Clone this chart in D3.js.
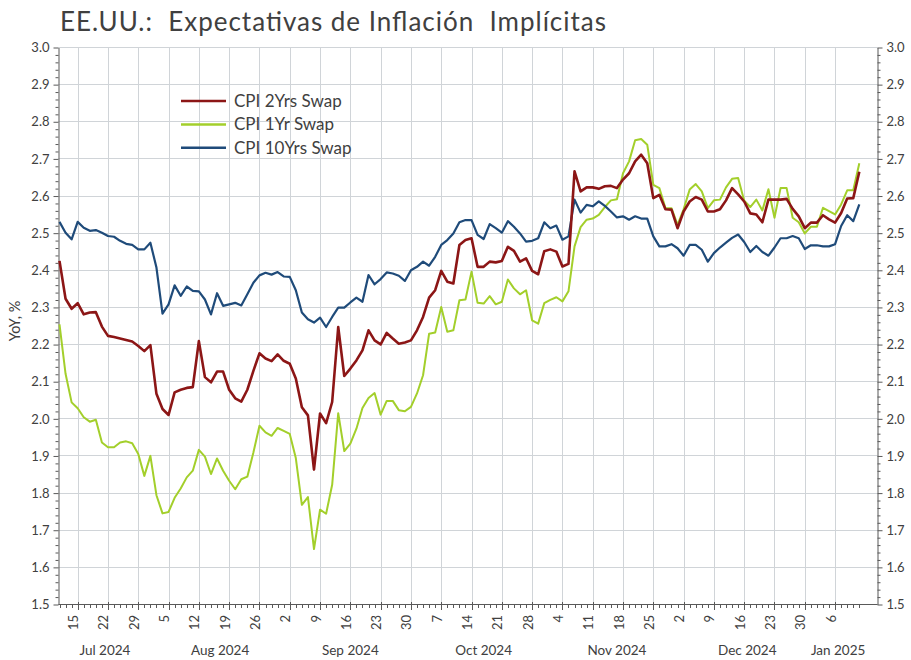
<!DOCTYPE html>
<html><head><meta charset="utf-8">
<script src="https://cdn.jsdelivr.net/npm/d3@7"></script>
<style>body{margin:0;background:#fff} svg{display:block} text{font-family:Lato,"Noto Sans",sans-serif;fill:#404040}</style>
</head><body><svg id="c" width="911" height="660"></svg>
<script>
const title = "EE.UU.:  Expectativas de Inflación  Implícitas";
const yTitle = "YoY, %";
const startDate = "2024-07-10";
const lastCategory = "2025-01-15";
const seriesNames = ["CPI 2Yrs Swap", "CPI 1Yr Swap", "CPI 10Yrs Swap"];
const seriesColors = ["#8c1616", "#a3cf2b", "#1f4b7a"];
const yTicks = [1.5,1.6,1.7,1.8,1.9,2.0,2.1,2.2,2.3,2.4,2.5,2.6,2.7,2.8,2.9,3.0];
const monthNames = ["Jan","Feb","Mar","Apr","May","Jun","Jul","Aug","Sep","Oct","Nov","Dec"];

const cpi2y = [2.424,2.322,2.295,2.310,2.280,2.285,2.286,2.247,2.222,2.219,2.215,2.211,2.207,2.195,2.181,2.197,2.066,2.025,2.009,2.070,
2.077,2.082,2.084,2.208,2.111,2.097,2.126,2.126,2.077,2.054,2.045,2.077,2.128,2.175,2.161,2.154,2.172,2.155,2.147,2.107,
2.030,2.008,1.862,2.013,1.987,2.044,2.246,2.114,2.134,2.156,2.183,2.237,2.210,2.199,2.230,2.215,2.201,2.204,2.210,2.237,
2.273,2.325,2.345,2.397,2.368,2.363,2.467,2.480,2.485,2.408,2.408,2.422,2.420,2.424,2.462,2.451,2.422,2.431,2.397,2.388,
2.450,2.455,2.449,2.409,2.416,2.665,2.611,2.622,2.622,2.618,2.625,2.626,2.620,2.643,2.660,2.692,2.710,2.687,2.593,2.602,
2.563,2.562,2.512,2.557,2.584,2.596,2.589,2.557,2.557,2.563,2.587,2.620,2.603,2.584,2.552,2.549,2.528,2.589,2.589,2.589,
2.591,2.564,2.544,2.512,2.527,2.527,2.547,2.536,2.527,2.553,2.592,2.593,2.664];

const cpi1y = [2.253,2.120,2.043,2.027,2.003,1.991,1.996,1.935,1.922,1.922,1.935,1.938,1.933,1.904,1.845,1.899,1.793,1.744,1.748,1.786,
1.811,1.841,1.859,1.915,1.897,1.850,1.892,1.859,1.832,1.809,1.836,1.843,1.908,1.980,1.962,1.953,1.974,1.966,1.958,1.893,
1.767,1.788,1.648,1.754,1.743,1.821,2.014,1.912,1.932,1.972,2.028,2.055,2.068,2.010,2.047,2.047,2.022,2.019,2.031,2.067,
2.116,2.228,2.231,2.300,2.233,2.237,2.318,2.320,2.395,2.311,2.309,2.329,2.307,2.314,2.374,2.350,2.334,2.345,2.264,2.255,
2.310,2.319,2.326,2.315,2.342,2.463,2.515,2.535,2.538,2.548,2.569,2.587,2.590,2.660,2.692,2.749,2.752,2.737,2.629,2.620,
2.566,2.566,2.521,2.563,2.616,2.631,2.611,2.566,2.587,2.589,2.622,2.645,2.647,2.586,2.569,2.589,2.560,2.617,2.540,2.620,
2.620,2.540,2.528,2.498,2.516,2.516,2.567,2.558,2.549,2.576,2.614,2.614,2.687];

const cpi10y = [2.529,2.500,2.482,2.529,2.513,2.505,2.507,2.500,2.491,2.489,2.478,2.470,2.467,2.455,2.455,2.473,2.406,2.282,2.307,2.358,
2.330,2.355,2.343,2.342,2.320,2.280,2.337,2.303,2.307,2.311,2.304,2.334,2.365,2.385,2.392,2.387,2.394,2.382,2.381,2.345,
2.285,2.267,2.258,2.271,2.246,2.273,2.298,2.298,2.312,2.325,2.314,2.386,2.361,2.375,2.393,2.390,2.384,2.370,2.399,2.408,
2.422,2.411,2.435,2.467,2.480,2.498,2.528,2.534,2.534,2.494,2.483,2.523,2.512,2.500,2.531,2.516,2.498,2.476,2.478,2.485,
2.528,2.512,2.519,2.481,2.490,2.589,2.554,2.575,2.571,2.584,2.572,2.557,2.541,2.544,2.535,2.544,2.538,2.538,2.490,2.463,
2.463,2.469,2.458,2.438,2.467,2.467,2.454,2.422,2.445,2.460,2.473,2.486,2.495,2.475,2.448,2.464,2.448,2.438,2.460,2.485,
2.485,2.491,2.485,2.456,2.466,2.466,2.463,2.463,2.469,2.518,2.547,2.531,2.576];

const series = [
  {name: seriesNames[1], values: cpi1y, color: seriesColors[1], width: 2},
  {name: seriesNames[2], values: cpi10y, color: seriesColors[2], width: 2.2},
  {name: seriesNames[0], values: cpi2y, color: seriesColors[0], width: 2.6}
];

// business-day categories
const parse = d3.utcParse("%Y-%m-%d");
const dates = d3.utcDays(parse(startDate), d3.utcDay.offset(parse(lastCategory), 1))
  .filter(d => d.getUTCDay() !== 0 && d.getUTCDay() !== 6);
const nData = cpi2y.length;

const svg = d3.select("#c");
const L = 58.5, R = 877.5, T = 47, B = 604;
const x = d3.scaleLinear().domain([0, dates.length - 1]).range([59.5, R]);
const y = d3.scaleLinear().domain([1.5, 3.0]).range([B, T]);
const crisp = v => Math.round(v) + 0.5;

// gridlines
const grid = svg.append("g");
grid.selectAll("line.h").data(yTicks).join("line")
  .attr("x1", L).attr("x2", R).attr("y1", d => crisp(y(d))).attr("y2", d => crisp(y(d)))
  .attr("stroke", "#d0d4d8").attr("stroke-width", 1);
const mondays = d3.range(nData).filter(i => dates[i].getUTCDay() === 1);
grid.selectAll("line.v").data(mondays).join("line")
  .attr("x1", i => crisp(x(i))).attr("x2", i => crisp(x(i))).attr("y1", T).attr("y2", B)
  .attr("stroke", "#d0d4d8").attr("stroke-width", 1);

// y axes
const minorY = d3.range(75, 151).map(v => v / 50).filter(v => Math.abs(v * 10 - Math.round(v * 10)) > 1e-6);
function yAxis(gen, xpos) {
  const g = svg.append("g").attr("transform", `translate(${xpos},0.5)`)
    .call(gen(y).tickValues(yTicks).tickFormat(d3.format(".1f")).tickSize(5).tickSizeOuter(0).tickPadding(4));
  g.select(".domain").attr("stroke", "#595959");
  g.selectAll(".tick line").attr("stroke", "#595959");
  g.selectAll(".tick text").style("font-size", "13px").style("font-family", "Lato").attr("fill", "#404040");
  const m = svg.append("g").attr("transform", `translate(${xpos},0.5)`)
    .call(gen(y).tickValues(minorY).tickFormat("").tickSize(3).tickSizeOuter(0));
  m.select(".domain").remove();
  m.selectAll(".tick line").attr("stroke", "#595959");
}
yAxis(d3.axisLeft, L);
yAxis(d3.axisRight, R);

// x axis
const xa = svg.append("g");
xa.append("line").attr("x1", L).attr("x2", R).attr("y1", B + 0.5).attr("y2", B + 0.5).attr("stroke", "#595959");
xa.selectAll("line.mi").data(d3.range(nData)).join("line")
  .attr("x1", i => crisp(x(i))).attr("x2", i => crisp(x(i))).attr("y1", B).attr("y2", B + 4)
  .attr("stroke", "#595959");
xa.selectAll("line.ma").data(mondays).join("line")
  .attr("x1", i => crisp(x(i))).attr("x2", i => crisp(x(i))).attr("y1", B - 2).attr("y2", B + 6)
  .attr("stroke", "#595959");
xa.selectAll("text.day").data(mondays).join("text")
  .attr("transform", i => `translate(${x(i) + 0.5},615) rotate(-90)`)
  .attr("text-anchor", "end").style("font-size", "13px")
  .text(i => dates[i].getUTCDate());

// month group labels
const months = d3.groups(d3.range(nData), i => dates[i].getUTCFullYear() * 12 + dates[i].getUTCMonth());
xa.selectAll("text.mon").data(months).join("text")
  .attr("x", d => (x(d[1][0]) + x(d[1][d[1].length - 1])) / 2)
  .attr("y", 655).attr("text-anchor", "middle").style("font-size", "13.5px")
  .text(d => monthNames[dates[d[1][0]].getUTCMonth()] + " " + dates[d[1][0]].getUTCFullYear());

// y title
svg.append("text").attr("transform", "translate(20,321) rotate(-90)")
  .attr("text-anchor", "middle").style("font-size", "14.5px").text(yTitle);

// title
svg.append("text").attr("x", 60).attr("y", 31).style("font-size", "26px")
  .style("white-space", "pre").attr("textLength", 546).attr("lengthAdjust", "spacing")
  .attr("fill", "#404040").text(title);

// lines
const line = d3.line().x((d, i) => x(i)).y(d => y(d));
svg.append("g").selectAll("path").data(series).join("path")
  .attr("d", d => line(d.values)).attr("fill", "none")
  .attr("stroke", d => d.color).attr("stroke-width", d => d.width)
  .attr("stroke-linejoin", "round");

// legend
const leg = svg.append("g");
const legItems = seriesNames.map((n, k) => ({name: n, color: seriesColors[k]}));
leg.selectAll("line").data(legItems).join("line")
  .attr("x1", 181).attr("x2", 226).attr("y1", (d, k) => 101 + k * 23.4).attr("y2", (d, k) => 101 + k * 23.4)
  .attr("stroke", d => d.color).attr("stroke-width", 2.5);
leg.selectAll("text").data(legItems).join("text")
  .attr("x", 234).attr("y", (d, k) => 107 + k * 23.4).style("font-size", "17px").text(d => d.name);
</script></body></html>
